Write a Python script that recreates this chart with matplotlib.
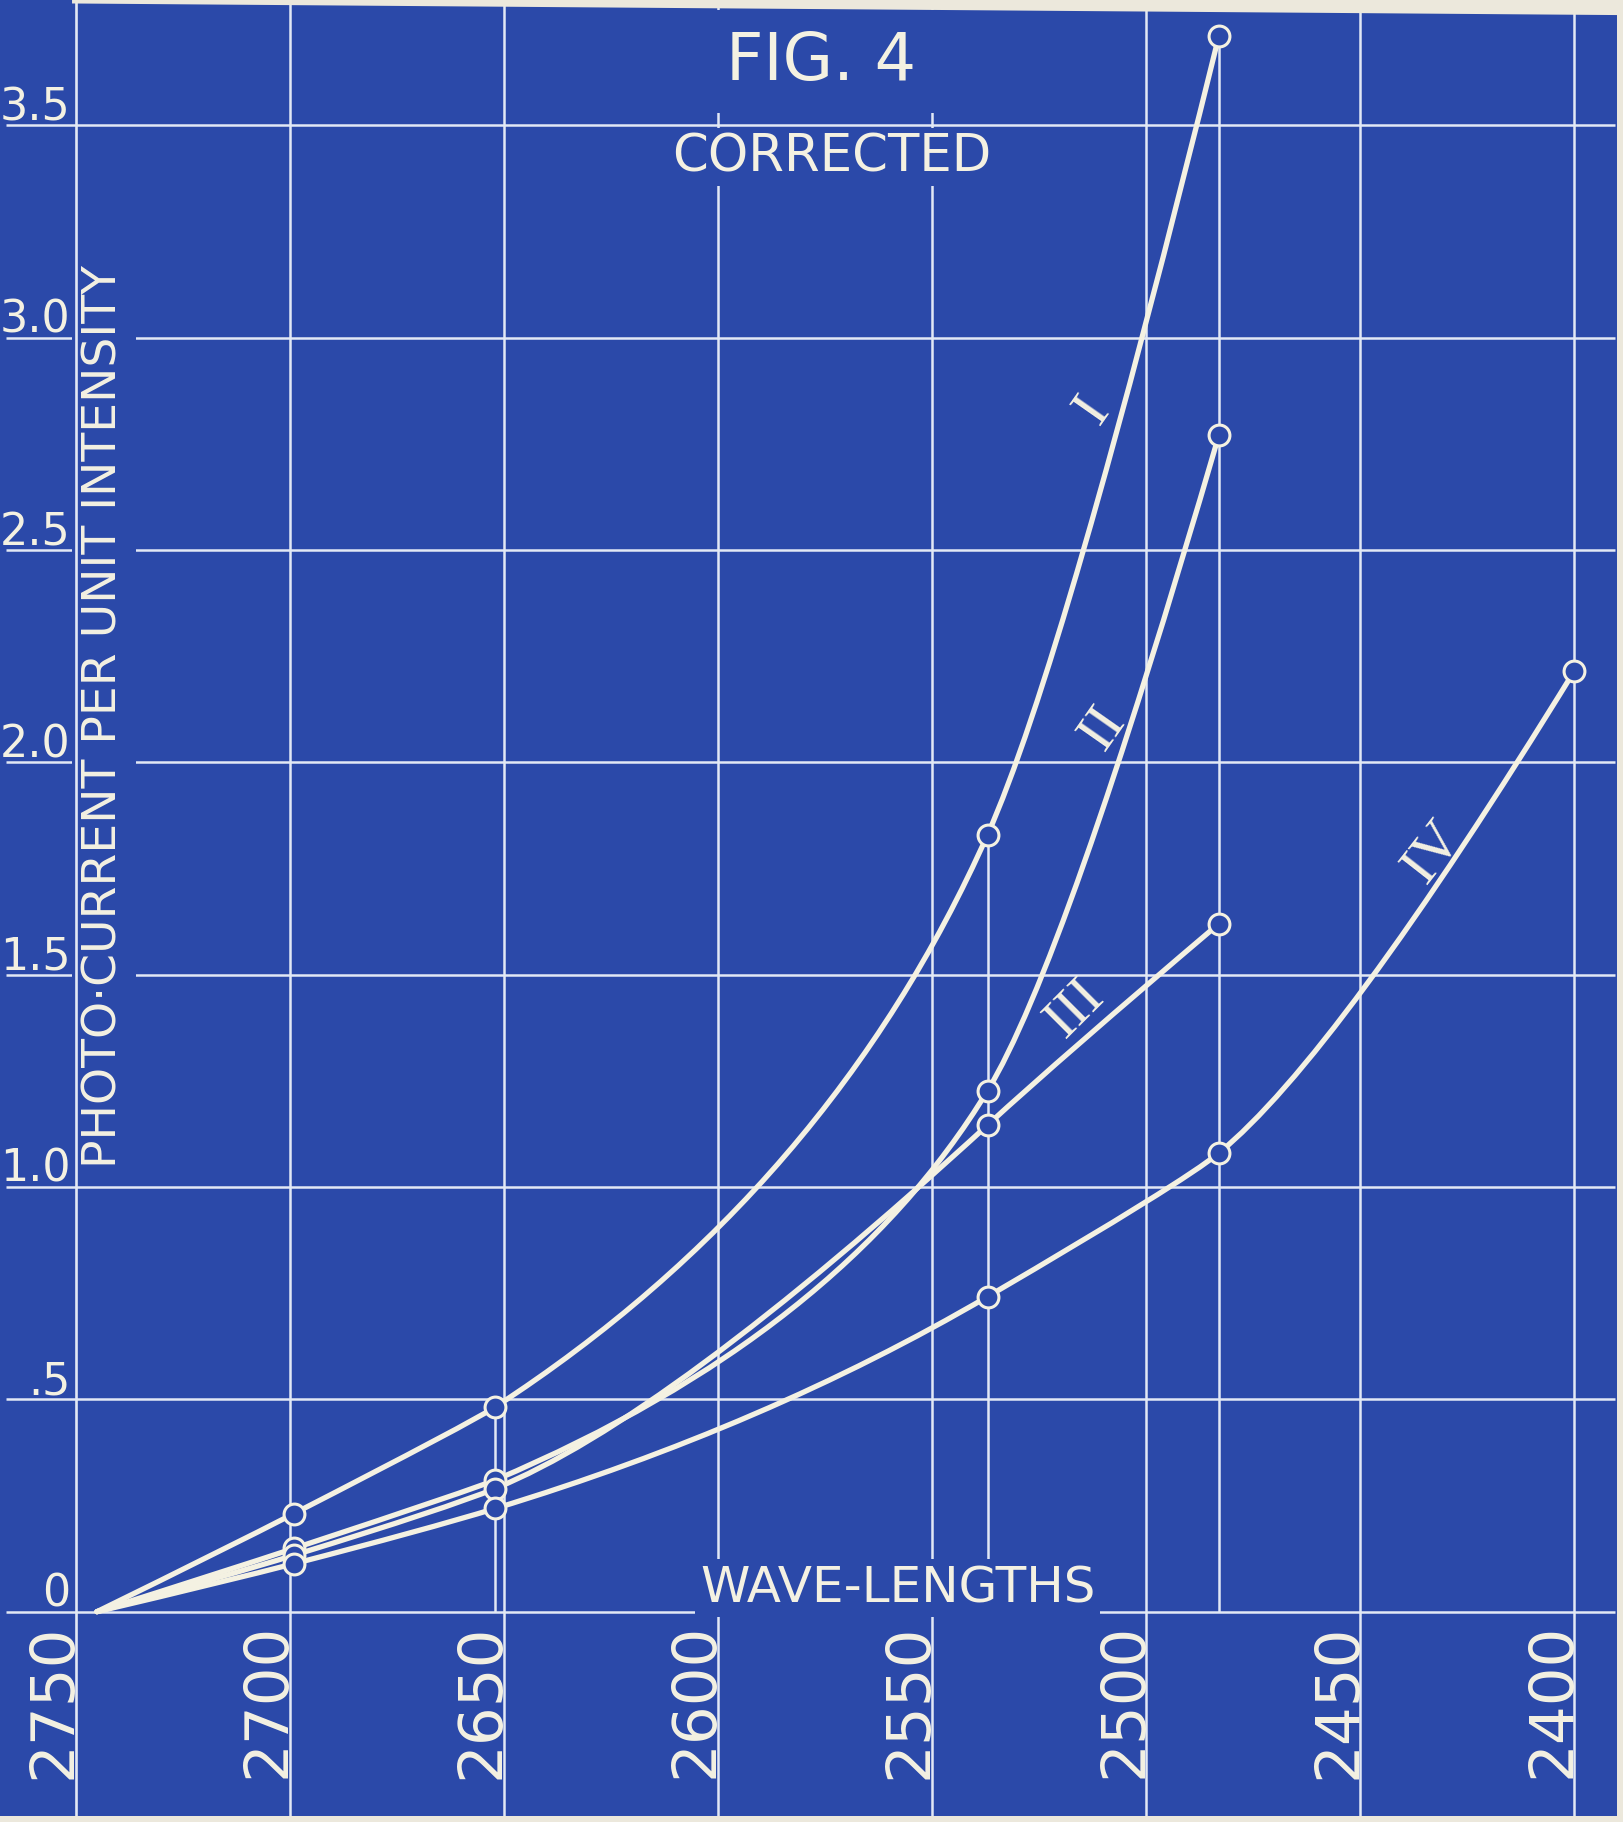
import numpy as np
import matplotlib
matplotlib.use("Agg")
import matplotlib.pyplot as plt
from matplotlib.path import Path
from matplotlib.patches import PathPatch, Rectangle, Polygon

# ---------------- data ----------------
wl_I = [2745, 2699, 2652, 2537, 2483]
cur_I = [0.0, 0.231, 0.482, 1.83, 3.71]
wl_II = [2745, 2699, 2652, 2537, 2483]
cur_II = [0.0, 0.149, 0.310, 1.227, 2.77]
wl_III = [2745, 2699, 2652, 2537, 2483]
cur_III = [0.0, 0.133, 0.290, 1.146, 1.62]
wl_IV = [2745, 2699, 2652, 2537, 2483, 2400]
cur_IV = [0.0, 0.113, 0.243, 0.742, 1.08, 2.215]
curve_names = ["I", "II", "III", "IV"]

x_ticks = [2750, 2700, 2650, 2600, 2550, 2500, 2450, 2400]
x_tick_labels = ["2750", "2700", "2650", "2600", "2550", "2500", "2450", "2400"]
y_ticks = [0.0, 0.5, 1.0, 1.5, 2.0, 2.5, 3.0, 3.5]
y_tick_labels = ["0", ".5", "1.0", "1.5", "2.0", "2.5", "3.0", "3.5"]

# drop lines from curve I points to the axis
drop_wl = [2652, 2537, 2483]
drop_bottom = [0.0, 0.11, 0.0]

# ---------------- style ----------------
BLUE = "#2b49a9"
CREAM = "#f4f1e2"
GRID = "#e2e8f5"
PAPER = "#ece8dc"

W, H = 1623, 1822
fig = plt.figure(figsize=(W / 100, H / 100), dpi=100)
fig.patch.set_facecolor(BLUE)
ax = fig.add_axes([0, 0, 1, 1])
ax.set_axis_off()

# pixel mapping (in the 1397x1568 view): 2750 -> x=65, 2400 -> x=1355 ; 0 -> y=1387, 3.5 -> y=108
k = 350.0 / (1355 - 65)          # Angstrom per px
s = 3.5 / (1387 - 108)           # units per px
ax.set_xlim(2750 + 65 * k, 2750 - (1397 - 65) * k)
ax.set_ylim(-(1568 - 1387) * s, 1387 * s)

# paper margins
fig.patches.append(Rectangle((1392 / 1397, 0), 1, 1, transform=fig.transFigure,
                             facecolor=PAPER, edgecolor="none", zorder=0))
fig.patches.append(Rectangle((0, 0), 1, 5 / 1568, transform=fig.transFigure,
                             facecolor=PAPER, edgecolor="none", zorder=0))
fig.patches.append(Polygon([(62 / 1397, 1), (1, 1), (1, 1 - 13 / 1568), (62 / 1397, 1 - 3 / 1568)],
                           closed=True, transform=fig.transFigure,
                           facecolor=PAPER, edgecolor="none", zorder=0))

y_bot = -(1563 - 1387) * s
y_top = 1387 * s
x_left = 2750 + 60 * k
x_right = 2750 - (1390 - 65) * k

# grid
ax.vlines(x_ticks[1:], y_bot, y_top, color=GRID, lw=1.8, zorder=1)
ax.vlines([x_ticks[0]], y_bot, y_top, color=GRID, lw=1.9, zorder=2.5)
ax.hlines(y_ticks, x_left, x_right, color=GRID, lw=1.8, zorder=1)

# drop lines
drop_top = [cur_I[wl_I.index(w)] for w in drop_wl]
ax.vlines(drop_wl, drop_bottom, drop_top, color=GRID, lw=1.8, zorder=1)

# texts with background boxes to interrupt the grid
ax.text(2576, 3.65, "FIG. 4", fontsize=47, color=CREAM, ha="center", va="center",
        bbox=dict(facecolor=BLUE, edgecolor="none", boxstyle="square,pad=0.3"), zorder=2)
ax.text(2573.5, 3.425, "CORRECTED", fontsize=37, color=CREAM, ha="center", va="center",
        bbox=dict(facecolor=BLUE, edgecolor="none", boxstyle="square,pad=0.08"), zorder=2)
ax.text(2558, 0.055, "WAVE-LENGTHS", fontsize=36, color=CREAM, ha="center", va="center",
        bbox=dict(facecolor=BLUE, edgecolor="none", boxstyle="square,pad=0.1"), zorder=2)
ax.text(2743.3, 2.107, "PHOTO·CURRENT PER UNIT INTENSITY", fontsize=34, color=CREAM,
        rotation=90, ha="center", va="center",
        bbox=dict(facecolor=BLUE, edgecolor="none", boxstyle="square,pad=0.2"), zorder=2)

# tick labels
for yv, lab in zip(y_ticks, y_tick_labels):
    ax.text(2750 + 1.2, yv + 0.012, lab, fontsize=32, color=CREAM, ha="right", va="baseline",
            zorder=3)
for xv, lab in zip(x_ticks, x_tick_labels):
    ax.text(xv + 5.0, -0.21, lab, fontsize=44, color=CREAM, rotation=90,
            ha="center", va="center", zorder=3)


# ---- smooth curve rendering through the measured points (Bezier path) ----
def _whm(a, b, ha, hb):
    if a * b <= 0:
        return 0.0
    w1 = 2 * hb + ha
    w2 = hb + 2 * ha
    return (w1 + w2) / (w1 / a + w2 / b)


def tangent_slopes(u, y):
    h = np.diff(u)
    d = np.diff(y) / h
    n = len(u)
    m = np.zeros(n)
    for i in range(1, n - 1):
        if y[i - 1] > 0 and y[i] > 0 and y[i + 1] > 0:
            a = np.log(y[i] / y[i - 1]) / h[i - 1]
            b = np.log(y[i + 1] / y[i]) / h[i]
            m[i] = y[i] * _whm(a, b, h[i - 1], h[i])
        else:
            m[i] = _whm(d[i - 1], d[i], h[i - 1], h[i])
    m[0] = (3 * d[0] - m[1]) / 2
    m[-1] = (3 * d[-1] - m[-2]) / 2
    return m


def curve_path(xs, ys):
    xs = np.asarray(xs, float)
    ys = np.asarray(ys, float)
    u = -xs
    m = tangent_slopes(u, ys)
    verts = [(xs[0], ys[0])]
    codes = [Path.MOVETO]
    for i in range(len(u) - 1):
        u0, u1, y0, y1 = u[i], u[i + 1], ys[i], ys[i + 1]
        m0, m1 = m[i], m[i + 1]
        dd = (y1 - y0) / (u1 - u0)
        if (m0 - dd) * (m1 - dd) < 0 and abs(m0 - m1) > 1e-12:
            uq = (y1 - y0 + m0 * u0 - m1 * u1) / (m0 - m1)
            yq = y0 + m0 * (uq - u0)
            c1 = (u0 + 2 / 3 * (uq - u0), y0 + 2 / 3 * (yq - y0))
            c2 = (u1 + 2 / 3 * (uq - u1), y1 + 2 / 3 * (yq - y1))
        else:
            hh = u1 - u0
            c1 = (u0 + hh / 3, y0 + m0 * hh / 3)
            c2 = (u1 - hh / 3, y1 - m1 * hh / 3)
        verts += [(-c1[0], c1[1]), (-c2[0], c2[1]), (xs[i + 1], y1)]
        codes += [Path.CURVE4] * 3
    return Path(verts, codes)


series = [(wl_I, cur_I), (wl_II, cur_II), (wl_III, cur_III), (wl_IV, cur_IV)]
for xs, ys in series:
    p = PathPatch(curve_path(xs, ys), facecolor="none", edgecolor=CREAM, lw=3.8,
                  capstyle="round", joinstyle="round", zorder=3)
    ax.add_patch(p)
    ax.plot(xs[1:], ys[1:], "o", ms=15, mfc=BLUE, mec=CREAM, mew=2.2, zorder=4)

# curve numerals
num_pos = [(2512.5, 2.83, 55), (2510.0, 2.08, 55), (2516.5, 1.42, 45), (2433.0, 1.79, 52)]
for name, (xv, yv, rot) in zip(curve_names, num_pos):
    ax.text(xv, yv, name, fontsize=42, family=["Liberation Serif", "DejaVu Serif"],
            color=CREAM, rotation=rot, ha="center", va="center", zorder=5)

fig.savefig("out.png", dpi=100, facecolor=fig.get_facecolor())
